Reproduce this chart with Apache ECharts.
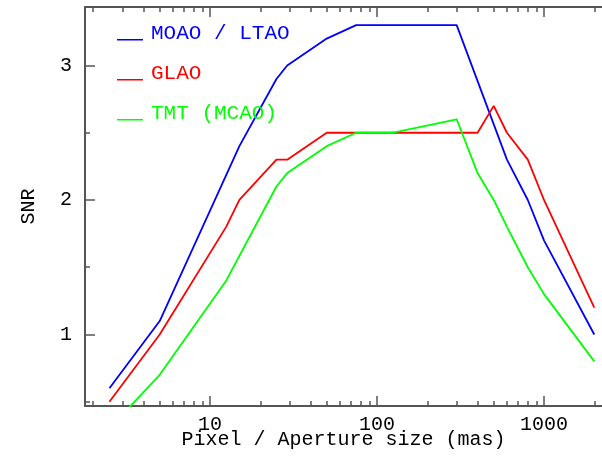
<!DOCTYPE html>
<html>
<head>
<meta charset="utf-8">
<script src="https://cdn.jsdelivr.net/npm/echarts@6/dist/echarts.min.js"></script>
<style>html,body{margin:0;padding:0;background:#fff;}#c{width:602px;height:458px;}</style>
</head>
<body>
<div id="c"></div>
<script>
// ---- data ----
const seriesNames = ['MOAO / LTAO', 'GLAO', 'TMT (MCAO)'];
const moaoX = [2.5, 5, 15, 25, 29, 50, 75, 300, 600, 800, 1000, 2000];
const moaoY = [0.6, 1.1, 2.4, 2.9, 3.0, 3.2, 3.3, 3.3, 2.3, 2.0, 1.7, 1.0];
const glaoX = [2.5, 5, 12.5, 15, 25, 29, 50, 400, 500, 600, 800, 1000, 2000];
const glaoY = [0.5, 1.0, 1.8, 2.0, 2.3, 2.3, 2.5, 2.5, 2.7, 2.5, 2.3, 2.0, 1.2];
const tmtX = [2.5, 5, 12.5, 25, 29, 50, 75, 125, 300, 400, 500, 600, 800, 1000, 2000];
const tmtY = [0.3, 0.7, 1.4, 2.1, 2.2, 2.4, 2.5, 2.5, 2.6, 2.2, 2.0, 1.8, 1.5, 1.3, 0.8];
const xMajorTicks = [10, 100, 1000];
const xMinorTicks = [2,3,4,5,6,7,8,9,20,30,40,50,60,70,80,90,200,300,400,500,600,700,800,900,2000];
const yMajorTicks = [1, 2, 3];
const yMinorTicks = [0.5, 1.5, 2.5];
const xName = 'Pixel / Aperture size (mas)';
const yName = 'SNR';

// ---- chart ----
const zip = (xs, ys) => xs.map((x, i) => [x, ys[i]]);
const colors = ['#0000ff', '#ff0000', '#00ff00'];
const FONT = 'Liberation Mono';
const AX = '#555555';
const XMIN = 1.785, XMAX = 2225, YMIN = 0.468, YMAX = 3.435;

function xAxisDef(pos, major, showLine, showLabel, name) {
  return {
    type: 'log', logBase: 10, position: pos, min: XMIN, max: XMAX,
    name: name || '', nameLocation: 'middle', nameGap: 24, nameMoveOverlap: false,
    nameTextStyle: { fontFamily: FONT, fontSize: 20, color: '#000' },
    axisLine: { show: showLine, onZero: false, lineStyle: { color: AX, width: 2 } },
    axisTick: { show: true, inside: true, length: major ? 10 : 5,
      customValues: major ? xMajorTicks : xMinorTicks, lineStyle: { color: AX, width: 1.5 } },
    axisLabel: { show: showLabel, customValues: xMajorTicks, margin: 9,
      fontFamily: FONT, fontSize: 20, color: '#000', formatter: v => String(v) },
    splitLine: { show: false }, minorTick: { show: false }
  };
}
function yAxisDef(major) {
  return {
    type: 'value', position: 'left', min: YMIN, max: YMAX,
    name: major ? yName : '', nameLocation: 'middle', nameGap: 46, nameRotate: 90,
    nameTextStyle: { fontFamily: FONT, fontSize: 20, color: '#000' },
    axisLine: { show: major, onZero: false, lineStyle: { color: AX, width: 2 } },
    axisTick: { show: true, inside: true, length: major ? 10 : 5,
      customValues: major ? yMajorTicks : yMinorTicks, lineStyle: { color: AX, width: 1.5 } },
    axisLabel: { show: major, customValues: yMajorTicks, margin: 13,
      fontFamily: FONT, fontSize: 20, color: '#000', formatter: v => String(v) },
    splitLine: { show: false }
  };
}

const chart = echarts.init(document.getElementById('c'), null, { renderer: 'canvas' });
chart.setOption({
  animation: false,
  backgroundColor: '#fff',
  grid: { left: 85, right: 0, top: 7, bottom: 52, containLabel: false, outerBoundsMode: 'none' },
  xAxis: [
    xAxisDef('bottom', true, true, true, xName),
    xAxisDef('bottom', false, false, false),
    xAxisDef('top', true, true, false),
    xAxisDef('top', false, false, false)
  ],
  yAxis: [yAxisDef(true), yAxisDef(false)],
  legend: {
    orient: 'vertical', left: 117, top: 23, padding: 0, itemGap: 19,
    itemWidth: 26, itemHeight: 14,
    icon: 'path://M0,0 M0,12.5 L26,12.5 L26,14 L0,14 Z',
    textStyle: { fontFamily: FONT, fontSize: 21, lineHeight: 21, padding: [0, 0, 0, 3] },
    data: seriesNames.map((n, i) => ({ name: n, textStyle: { color: colors[i] } }))
  },
  series: [
    { name: seriesNames[0], data: zip(moaoX, moaoY) },
    { name: seriesNames[1], data: zip(glaoX, glaoY) },
    { name: seriesNames[2], data: zip(tmtX, tmtY) }
  ].map((s, i) => Object.assign(s, {
    type: 'line', xAxisIndex: 0, yAxisIndex: 0, showSymbol: false, symbol: 'none',
    clip: true, color: colors[i], lineStyle: { color: colors[i], width: 1.8 }
  }))
});
</script>
</body>
</html>
